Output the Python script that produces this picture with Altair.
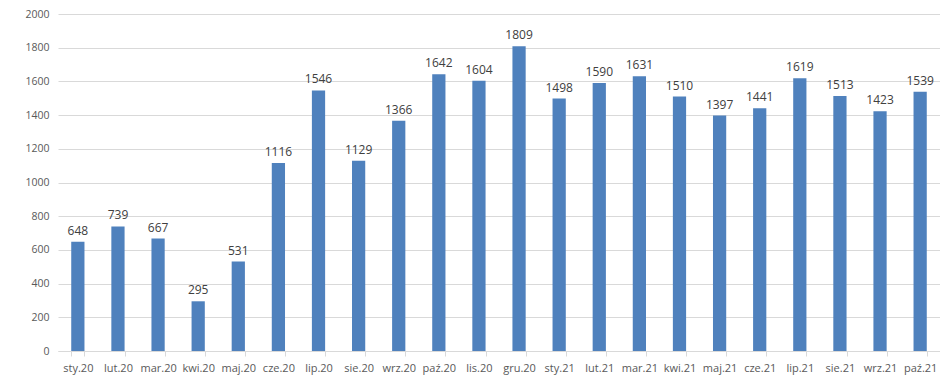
import altair as alt
import pandas as pd

months = ["sty.20", "lut.20", "mar.20", "kwi.20", "maj.20", "cze.20", "lip.20", "sie.20",
          "wrz.20", "paź.20", "lis.20", "gru.20", "sty.21", "lut.21", "mar.21", "kwi.21",
          "maj.21", "cze.21", "lip.21", "sie.21", "wrz.21", "paź.21"]
values = [648, 739, 667, 295, 531, 1116, 1546, 1129, 1366, 1642, 1604, 1809,
          1498, 1590, 1631, 1510, 1397, 1441, 1619, 1513, 1423, 1539]
y_ticks = [0, 200, 400, 600, 800, 1000, 1200, 1400, 1600, 1800, 2000]

df = pd.DataFrame({"month": months, "value": values})

FONT = "Open Sans"

x = alt.X("month:N", sort=months, title=None,
          scale=alt.Scale(paddingInner=0.67, paddingOuter=0.33),
          axis=alt.Axis(labelAngle=0, labelFont=FONT, labelFontSize=11, labelColor="#595959",
                        domainColor="#d9d9d9", tickColor="#d9d9d9", tickSize=5,
                        tickBand="extent", labelPadding=6, grid=False, labelOverlap=False))
y = alt.Y("value:Q", title=None,
          scale=alt.Scale(domain=[0, 2000], nice=False),
          axis=alt.Axis(values=y_ticks, format="d", labelFont=FONT, labelFontSize=10.5,
                        labelColor="#595959", domain=False, ticks=False, labelPadding=9,
                        gridColor="#d9d9d9", gridWidth=1, labelOverlap=False, labelFlush=False))

bars = alt.Chart(df).mark_bar(color="#4F81BD").encode(x=x, y=y)
labels = alt.Chart(df).mark_text(dy=-11, font=FONT, fontSize=12, color="#404040").encode(
    x=x, y=y, text="value:Q")

chart = (bars + labels).properties(
    width=882, height=337,
    autosize=alt.AutoSizeParams(type="none"),
    padding={"left": 50, "top": 6, "right": 0, "bottom": 30},
).configure_view(stroke=None)

chart.save("out.html", embed_options={"renderer": "svg", "actions": False})
